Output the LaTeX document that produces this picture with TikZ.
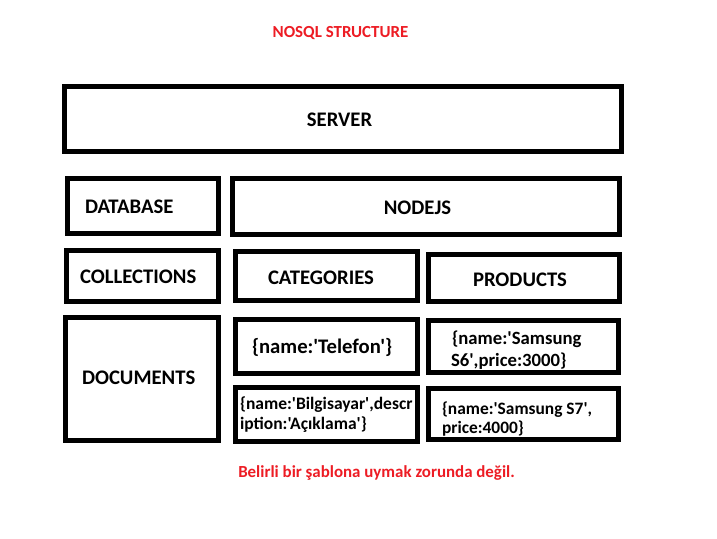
\documentclass[tikz,border=0pt]{standalone}
\usepackage{fontspec}
\setmainfont{Carlito}[Ligatures=TeXOff]
\definecolor{pred}{RGB}{237,28,36}
\newcommand\fsz[1]{\fontsize{#1}{#1}\selectfont}
\tikzset{
  boxline/.style={draw=black, line width=5pt, line join=miter},
  lbl/.style={inner sep=0pt, outer sep=0pt, font=\fsz{20.7}\bfseries},
  redtxt/.style={inner sep=0pt, text=pred, font=\fsz{16.9}\bfseries, anchor=base}
}
\begin{document}
\begin{tikzpicture}[x=1pt,y=-1pt]
\useasboundingbox[fill=white] (0,0) rectangle (717,538);
% boxes
\draw[boxline] (64.5,86.5) rectangle (621.5,151.5);
\draw[boxline] (67.5,178.5) rectangle (218.5,233.5);
\draw[boxline] (232.5,178.5) rectangle (619.5,234.5);
\draw[boxline] (66.5,250.5) rectangle (218.5,301.5);
\draw[boxline] (235.5,251.5) rectangle (417.5,300.5);
\draw[boxline] (428.5,254.5) rectangle (619.5,301.5);
\draw[boxline] (65.5,317.5) rectangle (218.5,440.5);
\draw[boxline] (235.5,319.5) rectangle (417.5,373.5);
\draw[boxline] (428.5,320.5) rectangle (618.5,372.5);
\draw[boxline] (235.5,387.5) rectangle (417.5,441.5);
\draw[boxline] (428.5,388.5) rectangle (618.5,439.5);
% titles
\node[redtxt] (title) at (340.5,37) {NOSQL STRUCTURE};
\node[redtxt] (note) at (376.5,477) {Belirli bir şablona uymak zorunda değil.};
% labels
\node[lbl, anchor=base] (server) at (339.5,126) {SERVER};
\node[lbl, anchor=base west] (database) at (85,213) {DATABASE};
\node[lbl, anchor=base] (nodejs) at (417.5,214) {NODEJS};
\node[lbl, anchor=base west] (collections) at (80,283) {COLLECTIONS};
\node[lbl, anchor=base west] (categories) at (268,284) {CATEGORIES};
\node[lbl, anchor=base west] (products) at (473,286) {PRODUCTS};
\node[lbl, anchor=base west] (documents) at (82,384) {DOCUMENTS};
\node[lbl, anchor=base west] (telefon) at (252,353) {\{name:'Telefon'\}};
\node[lbl, anchor=base west, font=\fsz{18.7}\bfseries] (s6a) at (452,344) {\{name:'Samsung};
\node[lbl, anchor=base west, font=\fsz{18.7}\bfseries] (s6b) at (451,366) {S6',price:3000\}};
\node[lbl, anchor=base west, font=\fsz{17.5}\bfseries] (bila) at (240,409) {\{name:'Bilgisayar',descr};
\node[lbl, anchor=base west, font=\fsz{17.5}\bfseries] (bilb) at (240,429) {iption:'Açıklama'\}};
\node[lbl, anchor=base west, font=\fsz{17.4}\bfseries] (s7a) at (442,414) {\{name:'Samsung S7',};
\node[lbl, anchor=base west, font=\fsz{17.4}\bfseries] (s7b) at (442,433) {price:4000\}};
\end{tikzpicture}
\end{document}
